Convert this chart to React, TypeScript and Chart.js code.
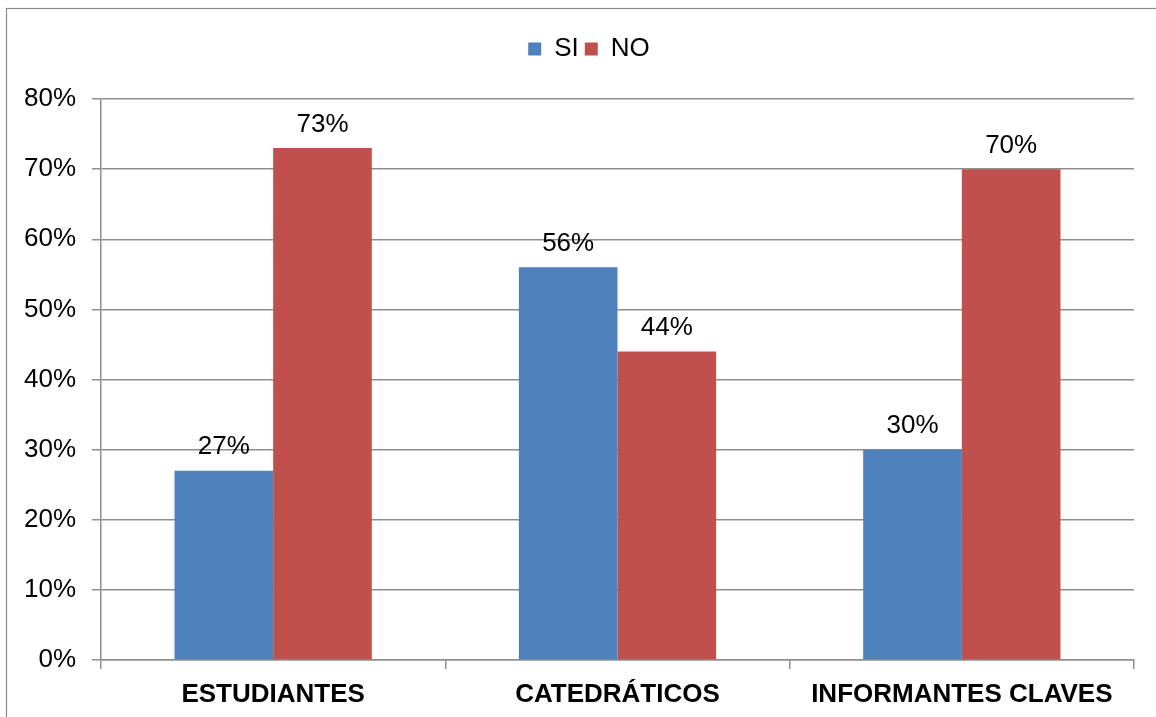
import React, { useEffect, useRef } from "react";
import { Chart, registerables } from "chart.js";

Chart.register(...registerables);

const categories = ["ESTUDIANTES", "CATEDRÁTICOS", "INFORMANTES CLAVES"];
const siValues = [27, 56, 30];
const noValues = [73, 44, 70];
const yTicks = [0, 10, 20, 30, 40, 50, 60, 70, 80];

const GRID = "#8e8e8e";
const FONT = "'Liberation Sans', Arial, sans-serif";

const frame = {
  id: "frame",
  beforeDraw(chart: any) {
    const ctx = chart.ctx;
    ctx.save();
    ctx.fillStyle = "#ffffff";
    ctx.fillRect(0, 0, chart.width, chart.height);
    ctx.strokeStyle = "#8a8a8a";
    ctx.lineWidth = 1.2;
    ctx.strokeRect(6.5, 8.5, 3000, 3000);
    ctx.restore();
  },
};

const valueLabels = {
  id: "valueLabels",
  afterDatasetsDraw(chart: any) {
    const ctx = chart.ctx;
    ctx.save();
    ctx.font = `26px ${FONT}`;
    ctx.fillStyle = "#000";
    ctx.textAlign = "center";
    ctx.textBaseline = "alphabetic";
    chart.data.datasets.forEach((ds: any, i: number) => {
      const meta = chart.getDatasetMeta(i);
      meta.data.forEach((bar: any, j: number) => {
        ctx.fillText(`${ds.data[j]}%`, bar.x, bar.y - 16.5);
      });
    });
    ctx.restore();
  },
};

export default function App() {
  const ref = useRef<HTMLCanvasElement | null>(null);
  useEffect(() => {
    if (!ref.current) return;
    const chart = new Chart(ref.current, {
      type: "bar",
      data: {
        labels: categories,
        datasets: [
          { label: "SI", data: siValues, backgroundColor: "#4F81BD", borderWidth: 0 },
          { label: "NO", data: noValues, backgroundColor: "#C0504D", borderWidth: 0 },
        ],
      },
      options: {
        responsive: false,
        animation: false,
        layout: { padding: { top: 30, right: 0, left: 22, bottom: 0 } },
        datasets: { bar: { categoryPercentage: 0.573, barPercentage: 1 } },
        plugins: {
          legend: {
            display: true,
            position: "top",
            labels: {
              boxWidth: 13,
              boxHeight: 13,
              padding: 6,
              color: "#000",
              font: { family: FONT, size: 26 },
            },
          },
          title: {
            display: true,
            text: "",
            weight: 500,
            position: "top",
            font: { size: 10, lineHeight: 1 },
            padding: { top: 0, bottom: 17 },
          } as any,
          tooltip: { enabled: false },
        },
        scales: {
          x: {
            offset: true,
            grid: {
              display: true,
              offset: true,
              drawOnChartArea: false,
              drawTicks: true,
              tickLength: 9,
              color: GRID,
              lineWidth: 1.5,
            },
            border: { display: true, color: GRID, width: 1.5 },
            ticks: {
              color: "#000",
              padding: 10,
              font: { family: FONT, size: 26, weight: "bold" },
            },
            afterFit(scale: any) {
              scale.height = 57;
            },
          },
          y: {
            min: 0,
            max: 80,
            afterBuildTicks(scale: any) {
              scale.ticks = yTicks.map((v) => ({ value: v }));
            },
            grid: {
              color: GRID,
              lineWidth: 1.5,
              drawTicks: true,
              tickLength: 9,
            },
            border: { display: true, color: GRID, width: 1.5 },
            ticks: {
              color: "#000",
              padding: 16,
              font: { family: FONT, size: 26 },
              callback: (v: any) => `${v}%`,
            },
            afterFit(scale: any) {
              scale.width = 79;
            },
          },
          spacer: {
            type: "linear",
            position: "right",
            display: true,
            grid: { display: false, drawOnChartArea: false, drawTicks: false },
            border: { display: false },
            ticks: { display: false },
            afterFit(scale: any) {
              scale.width = 22;
            },
          } as any,
        },
      },
      plugins: [frame, valueLabels],
    });
    return () => chart.destroy();
  }, []);
  return (
    <div style={{ position: "fixed", left: 0, top: 0, width: 1156, height: 717, background: "#fff" }}>
      <canvas ref={ref} width={1156} height={717} style={{ display: "block" }} />
    </div>
  );
}
